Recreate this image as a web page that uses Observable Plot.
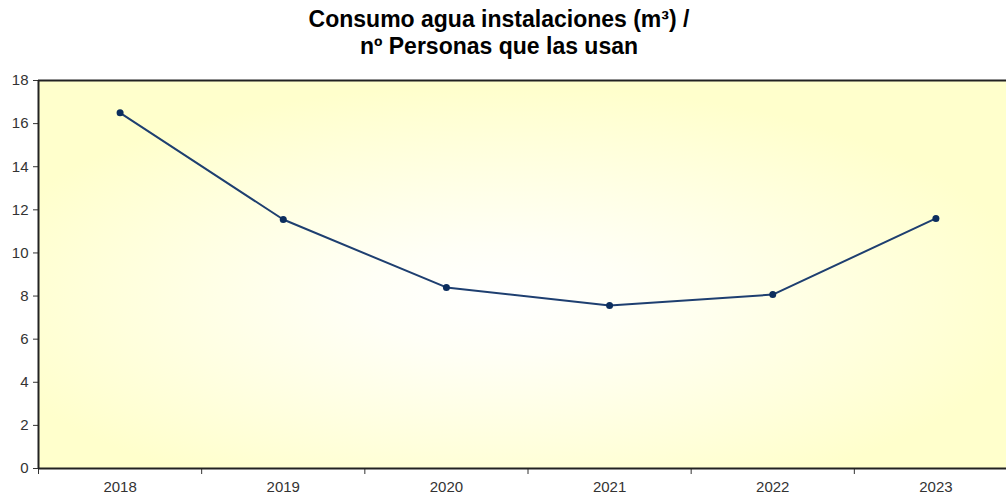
<!DOCTYPE html>
<html>
<head>
<meta charset="utf-8">
<script src="https://cdn.jsdelivr.net/npm/d3@7"></script>
<script src="https://cdn.jsdelivr.net/npm/@observablehq/plot@0.6"></script>
<style>
  html, body { margin: 0; padding: 0; background: #fff; }
  #wrap { width: 1006px; height: 496px; overflow: hidden; position: relative; }
  #title { height: 70px; box-sizing: border-box; padding-top: 6px; padding-right: 8px; text-align: center; white-space: nowrap;
    font-family: "Liberation Sans", Arial, sans-serif; font-weight: bold; font-size: 23px; line-height: 27px; color: #000; }
  #chart svg { display: block; max-width: none !important; }
</style>
</head>
<body>
<div id="wrap">
  <div id="title">Consumo agua instalaciones (m³) /<br>nº Personas que las usan</div>
  <div id="chart"></div>
</div>
<script>
const years = ["2018", "2019", "2020", "2021", "2022", "2023"];
const values = [16.5, 11.55, 8.4, 7.56, 8.07, 11.6];
const yTicks = [0, 2, 4, 6, 8, 10, 12, 14, 16, 18];

const data = years.map((y, i) => ({ year: y, i: i + 0.5, v: values[i] }));
const boundaries = d3.range(0, years.length + 1);
const centers = years.map((y, i) => i + 0.5);

const plot = Plot.plot({
  width: 1017,
  height: 426,
  marginLeft: 38,
  marginRight: 0,
  marginTop: 10,
  marginBottom: 28,
  style: { fontFamily: "'Liberation Sans', Arial, sans-serif", fontSize: "15px", color: "#333", background: "transparent", maxWidth: "none" },
  x: { type: "linear", domain: [0, years.length] },
  y: { domain: [0, 18] },
  marks: [
    Plot.frame({ fill: "url(#bg)", stroke: null }),
    Plot.axisY({ ticks: yTicks, tickSize: 5, tickPadding: 5, fontSize: 15, fill: "#333", stroke: "#333", label: null }),
    Plot.axisX({ ticks: boundaries, tickSize: 6, tickFormat: () => "", stroke: "#333", label: null }),
    Plot.axisX({ ticks: centers, tickSize: 0, tickPadding: 13, tickFormat: d => years[Math.floor(d)], fontSize: 15, fill: "#333", label: null }),
    Plot.ruleY([0], { stroke: "#222", strokeWidth: 2 }),
    Plot.ruleY([18], { stroke: "#222", strokeWidth: 2 }),
    Plot.ruleX([0], { stroke: "#222", strokeWidth: 2 }),
    Plot.line(data, { x: "i", y: "v", stroke: "#1e3f70", strokeWidth: 2 }),
    Plot.dot(data, { x: "i", y: "v", r: 3.5, fill: "#0c2e5e", stroke: null })
  ]
});

const svg = d3.select(plot);
svg.style("max-width", "none");
const defs = svg.insert("defs", ":first-child");
const g = defs.append("radialGradient").attr("id", "bg")
  .attr("cx", 0.47).attr("cy", 0.56).attr("r", 0.55).attr("fx", 0.47).attr("fy", 0.56);
g.append("stop").attr("offset", "0").attr("stop-color", "#ffffff");
g.append("stop").attr("offset", "0.25").attr("stop-color", "#fffff6");
g.append("stop").attr("offset", "1").attr("stop-color", "#ffffcc");

document.getElementById("chart").appendChild(plot);
</script>
</body>
</html>
